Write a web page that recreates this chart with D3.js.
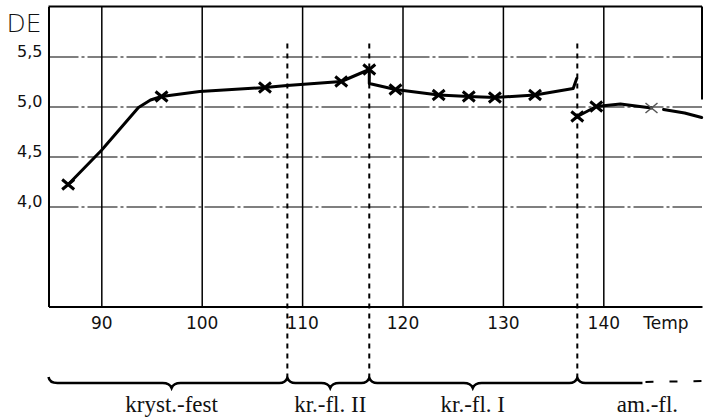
<!DOCTYPE html>
<html>
  <head>
    <meta charset="utf-8">
    <title>DE against temperature</title>
    <script src="https://cdn.jsdelivr.net/npm/d3@7"></script>
    <style>
      body { margin: 0; background: #fff; }
      #chart { width: 704px; height: 420px; display: block; }
      .axis text { font-family: "DejaVu Sans", sans-serif; fill: #111; }
      .phase { font-family: "Liberation Serif", serif; font-size: 23px; fill: #111; }
    </style>
  </head>

  <body>
    <svg id="chart">
      <g id="gridGroup">
        <g id="xAxisGroup" class="axis"></g>
        <g id="yAxisGroup" class="axis"></g>
      </g>
      <g id="frameGroup"></g>
      <g id="transitionGroup"></g>
      <g id="curveGroup"></g>
      <g id="markerGroup"></g>
      <g id="braceGroup"></g>
    </svg>

    <script>
      // data
      temp = [86.7, 90.0, 93.7, 94.9, 96.0, 99.8, 106.3, 108.5, 113.9, 116.69, 116.69, 119.3, 123.6, 126.6, 129.2, 133.2, 137.0, 137.35,
              137.41, 139.3, 141.7, 144.8,
              146.0, 148.1, 149.8];
      de = [4.22, 4.56, 4.99, 5.065, 5.10, 5.15, 5.19, 5.21, 5.25, 5.37, 5.23, 5.17, 5.115, 5.10, 5.09, 5.115, 5.18, 5.28,
            4.90, 5.00, 5.025, 4.985,
            4.97, 4.935, 4.89];
      segment = [0, 0, 0, 0, 0, 0, 0, 0, 0, 0, 0, 0, 0, 0, 0, 0, 0, 0,
                 1, 1, 1, 1,
                 2, 2, 2];
      // 1 = cross drawn, 2 = faint cross
      marked = [1, 0, 0, 0, 1, 0, 1, 0, 1, 1, 0, 1, 1, 1, 1, 1, 0, 0,
                1, 1, 0, 2,
                0, 0, 0];

      xTicks = [90, 100, 110, 120, 130, 140];
      yTicks = [4.0, 4.5, 5.0, 5.5];
      yTickLabels = ["4,0", "4,5", "5,0", "5,5"];

      transitions = [108.53, 116.69, 137.41];
      phaseNames = ["kryst.-fest", "kr.-fl. II", "kr.-fl. I", "am.-fl."];
      phaseMid = [97.0, 112.8, 127.0, 144.4];

      // page elements
      chart = d3.select("#chart");
      xAxisGroup = d3.select("#xAxisGroup");
      yAxisGroup = d3.select("#yAxisGroup");
      frameGroup = d3.select("#frameGroup");
      transitionGroup = d3.select("#transitionGroup");
      curveGroup = d3.select("#curveGroup");
      markerGroup = d3.select("#markerGroup");
      braceGroup = d3.select("#braceGroup");

      // scales
      x = d3.scaleLinear()
        .domain([84.74, 149.83])
        .range([48.5, 702]);
      y = d3.scaleLinear()
        .domain([3, 6])
        .range([306.5, 6.5]);

      plotLeft = x.range()[0];
      plotRight = x.range()[1];
      plotTop = y.range()[1];
      plotBottom = y.range()[0];

      // axes, ticks stretched into gridlines
      xAxis = d3.axisBottom(x)
        .tickValues(xTicks)
        .tickSizeInner(plotTop - plotBottom)
        .tickSizeOuter(0)
        .tickPadding(10)
        .tickFormat(d3.format("d"));
      yAxis = d3.axisLeft(y)
        .tickValues(yTicks)
        .tickSizeInner(plotLeft - plotRight)
        .tickSizeOuter(0)
        .tickPadding(6)
        .tickFormat(function(d, i) {
          return yTickLabels[i];
        });

      xAxisGroup.attr("transform", "translate(0, " + plotBottom + ")")
        .call(xAxis);
      xAxisGroup.select(".domain")
        .attr("stroke", "#000")
        .attr("stroke-width", 2);
      xAxisGroup.selectAll(".tick line")
        .attr("stroke", "#000")
        .attr("stroke-width", 1.5);
      xAxisGroup.selectAll(".tick text")
        .attr("font-size", 17)
        .attr("fill", "#111");
      xAxisGroup.append("text")
        .attr("x", x(140) + 40)
        .attr("y", 10)
        .attr("dy", "0.71em")
        .attr("text-anchor", "start")
        .attr("font-size", 17)
        .attr("fill", "#111")
        .text("Temp");

      yAxisGroup.attr("transform", "translate(" + plotLeft + ", 0)")
        .call(yAxis);
      yAxisGroup.select(".domain")
        .attr("stroke", "#000")
        .attr("stroke-width", 2);
      yAxisGroup.selectAll(".tick line")
        .attr("stroke", "#000")
        .attr("stroke-width", 1.2)
        .attr("stroke-dasharray", "30,3,3,3");
      yAxisGroup.selectAll(".tick text")
        .attr("dy", "0em")
        .attr("font-size", 16)
        .attr("fill", "#111");
      yAxisGroup.append("text")
        .attr("x", -42)
        .attr("y", 32)
        .attr("text-anchor", "start")
        .attr("font-size", 25)
        .attr("font-weight", 200)
        .attr("font-family", "'DejaVu Sans Condensed', 'DejaVu Sans', sans-serif")
        .attr("fill", "#222")
        .text("DE");

      // top border, and the short right border
      frameGroup.append("line")
        .attr("x1", plotLeft)
        .attr("x2", plotRight)
        .attr("y1", plotTop)
        .attr("y2", plotTop)
        .attr("stroke", "#000")
        .attr("stroke-width", 2);
      frameGroup.append("line")
        .attr("x1", plotRight)
        .attr("x2", plotRight)
        .attr("y1", plotTop)
        .attr("y2", y(5.07))
        .attr("stroke", "#000")
        .attr("stroke-width", 2);

      // brace geometry
      braceY = 383;

      // dashed transition lines
      transitionGroup.selectAll("line")
        .data(transitions)
        .enter().append("line")
          .attr("x1", function(d) { return x(d); })
          .attr("x2", function(d) { return x(d); })
          .attr("y1", y(5.63))
          .attr("y2", braceY - 5)
          .attr("stroke", "#000")
          .attr("stroke-width", 2)
          .attr("stroke-dasharray", "5,5");

      // measured curve, in its pieces
      points = temp.map(function(t, i) {
        return { temp: t, de: de[i], segment: segment[i], marked: marked[i] };
      });
      pieces = d3.groups(points, function(d) { return d.segment; });
      line = d3.line()
        .x(function(d) { return x(d.temp); })
        .y(function(d) { return y(d.de); })
        .curve(d3.curveLinear);

      curveGroup.selectAll("path")
        .data(pieces)
        .enter().append("path")
          .attr("d", function(d) { return line(d[1]); })
          .attr("fill", "none")
          .attr("stroke", "#000")
          .attr("stroke-width", 3)
          .attr("stroke-linejoin", "round")
          .attr("stroke-linecap", "round");

      // crosses
      crosses = markerGroup.selectAll("path")
        .data(points.filter(function(d) { return d.marked > 0; }))
        .enter().append("path")
          .attr("transform", function(d) {
            return "translate(" + x(d.temp) + ", " + y(d.de) + ")";
          })
          .attr("d", "M-6,-5L6,5M-6,5L6,-5")
          .attr("fill", "none")
          .attr("stroke", function(d) { return d.marked == 2 ? "#555" : "#000"; })
          .attr("stroke-width", function(d) { return d.marked == 2 ? 1.5 : 3; });

      // brace under the axis
      brace = d3.path();
      brace.moveTo(plotLeft, braceY - 6);
      brace.quadraticCurveTo(plotLeft + 1, braceY, plotLeft + 9, braceY);
      phaseNames.forEach(function(name, i) {
        if (i == phaseNames.length - 1) {
          brace.lineTo(x(143.9), braceY);
          return;
        }
        mid = x(phaseMid[i]);
        brace.lineTo(mid - 9, braceY);
        brace.quadraticCurveTo(mid - 2, braceY, mid, braceY + 5);
        brace.quadraticCurveTo(mid + 2, braceY, mid + 9, braceY);
        end = x(transitions[i]);
        brace.lineTo(end - 8, braceY);
        brace.quadraticCurveTo(end - 2, braceY, end, braceY - 5);
        brace.quadraticCurveTo(end + 2, braceY, end + 8, braceY);
      });
      braceGroup.append("path")
        .attr("d", brace.toString())
        .attr("fill", "none")
        .attr("stroke", "#000")
        .attr("stroke-width", 2.5);
      braceGroup.append("line")
        .attr("x1", x(144.2))
        .attr("x2", 704)
        .attr("y1", braceY - 1)
        .attr("y2", braceY - 2)
        .attr("stroke", "#000")
        .attr("stroke-width", 2)
        .attr("stroke-dasharray", "8,16");

      braceGroup.selectAll(".phase")
        .data(phaseNames)
        .enter().append("text")
          .attr("class", "phase")
          .attr("x", function(d, i) { return x(phaseMid[i]); })
          .attr("y", 412)
          .attr("text-anchor", "middle")
          .text(function(d) { return d; });
    </script>
  </body>
</html>
